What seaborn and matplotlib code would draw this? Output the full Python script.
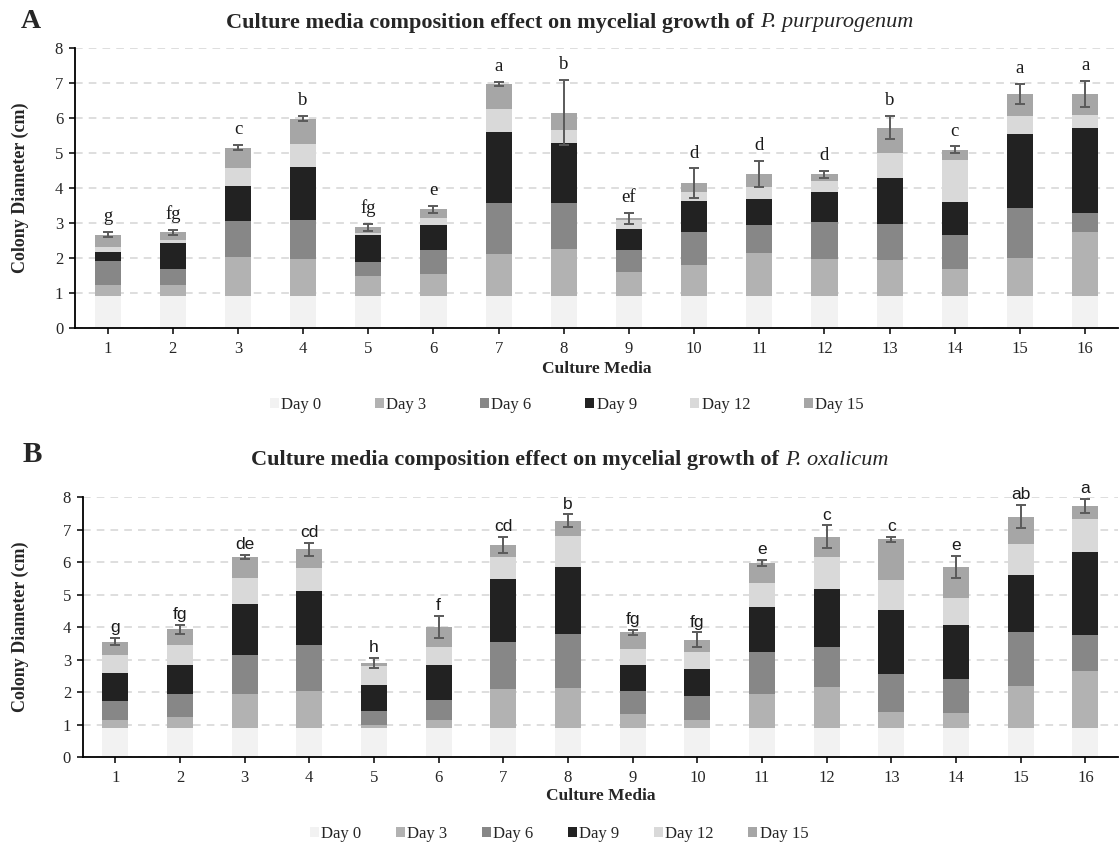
import numpy as np
import pandas as pd
import matplotlib
matplotlib.use("Agg")
import matplotlib.pyplot as plt
from matplotlib.patches import Patch
import seaborn as sns

media = [str(i) for i in range(1, 17)]
days = ["Day 0", "Day 3", "Day 6", "Day 9", "Day 12", "Day 15"]
day_colors = ["#f2f2f2", "#b2b2b2", "#878787", "#222222", "#d9d9d9", "#a6a6a6"]

# P. purpurogenum: colony diameter (cm) per medium and day
pp_day0 = [0.90] * 16
pp_day3 = [1.22, 1.22, 2.02, 1.98, 1.48, 1.54, 2.12, 2.25, 1.59, 1.79, 2.13, 1.98, 1.93, 1.67, 2.00, 2.75]
pp_day6 = [1.91, 1.69, 3.06, 3.08, 1.88, 2.23, 3.57, 3.57, 2.23, 2.74, 2.93, 3.02, 2.96, 2.65, 3.44, 3.29]
pp_day9 = [2.17, 2.43, 4.07, 4.59, 2.67, 2.93, 5.61, 5.29, 2.83, 3.63, 3.69, 3.88, 4.29, 3.60, 5.54, 5.71]
pp_day12 = [2.32, 2.51, 4.57, 5.25, 2.72, 3.14, 6.26, 5.66, 3.08, 3.89, 4.02, 4.20, 4.99, 4.80, 6.06, 6.10]
pp_day15 = [2.67, 2.73, 5.16, 5.99, 2.88, 3.39, 6.98, 6.16, 3.13, 4.14, 4.40, 4.40, 5.73, 5.09, 6.69, 6.69]
pp_err = [0.08, 0.06, 0.07, 0.06, 0.10, 0.10, 0.05, 0.92, 0.15, 0.42, 0.38, 0.10, 0.33, 0.10, 0.28, 0.38]
pp_letters = ["g", "fg", "c", "b", "fg", "e", "a", "b", "ef", "d", "d", "d", "b", "c", "a", "a"]

# P. oxalicum: colony diameter (cm) per medium and day
po_day0 = [0.90] * 16
po_day3 = [1.13, 1.23, 1.95, 2.03, 1.00, 1.13, 2.09, 2.13, 1.32, 1.13, 1.95, 2.17, 1.39, 1.37, 2.19, 2.64]
po_day6 = [1.72, 1.93, 3.16, 3.46, 1.41, 1.77, 3.56, 3.78, 2.03, 1.88, 3.23, 3.38, 2.56, 2.40, 3.85, 3.76]
po_day9 = [2.59, 2.85, 4.71, 5.10, 2.21, 2.85, 5.49, 5.85, 2.83, 2.72, 4.63, 5.19, 4.53, 4.07, 5.62, 6.32]
po_day12 = [3.14, 3.46, 5.51, 5.81, 2.81, 3.38, 6.17, 6.80, 3.32, 3.24, 5.36, 6.16, 5.45, 4.89, 6.56, 7.33]
po_day15 = [3.56, 3.93, 6.16, 6.40, 2.91, 4.01, 6.53, 7.27, 3.84, 3.62, 5.97, 6.78, 6.70, 5.85, 7.40, 7.73]
po_err = [0.12, 0.15, 0.06, 0.20, 0.15, 0.35, 0.25, 0.20, 0.07, 0.22, 0.10, 0.35, 0.09, 0.35, 0.36, 0.22]
po_letters = ["g", "fg", "de", "cd", "h", "f", "cd", "b", "fg", "fg", "e", "c", "c", "e", "ab", "a"]

SERIF = "Liberation Serif"
SANS = "Liberation Sans"

sns.set_theme(style="white")
plt.rcParams["font.family"] = [SERIF, "DejaVu Serif"]

FIG_W, FIG_H = 1120, 847


def panel_frame(values):
    df = pd.DataFrame({"Medium": media})
    for d, v in zip(days, values):
        df[d] = v
    return df


def draw_panel(ax, df, err, letters, letter_font, letter_size, letter_gap,
               ylabel_px, xlabel_pad):
    # Each day's diameter is drawn from zero, latest (largest) first,
    # so earlier days overlay the lower part of each column.
    for d, c in reversed(list(zip(days, day_colors))):
        sns.barplot(data=df, x="Medium", y=d, color=c, width=0.4,
                    saturation=1, errorbar=None, ax=ax, order=media,
                    edgecolor="none", linewidth=0)
    nb = len(media)
    tops = df["Day 15"].to_numpy()
    centers = np.array([p.get_x() + p.get_width() / 2 for p in ax.patches[:nb]])
    ax.errorbar(centers, tops, yerr=err, fmt="none", ecolor="#5a5a5a",
                elinewidth=1.4, capsize=3.5, capthick=1.4, zorder=5)
    for xc, t, e, lab in zip(centers, tops, err, letters):
        ax.annotate(lab, (xc, t + e), xytext=(0, letter_gap), textcoords="offset points",
                    ha="center", va="bottom", fontsize=letter_size,
                    family=letter_font, color="#1a1a1a")
    ax.set_xlim(-0.5, nb - 0.5)
    ax.set_ylim(0, 8)
    ax.set_yticks(range(0, 9))
    ax.yaxis.grid(True, linestyle=(0, (5, 4)), color="#d4d4d4", linewidth=1.1)
    ax.set_axisbelow(True)
    for s in ["top", "right"]:
        ax.spines[s].set_visible(False)
    for s in ["left", "bottom"]:
        ax.spines[s].set_color("black")
        ax.spines[s].set_linewidth(1.3)
    ax.tick_params(axis="both", which="major", direction="out", length=4.5,
                   width=1.1, color="black", labelsize=12, bottom=True, left=True)
    ax.tick_params(axis="x", pad=5)
    ax.tick_params(axis="y", pad=4)
    for lab in ax.get_xticklabels() + ax.get_yticklabels():
        lab.set_family(SERIF)
    ax.set_xlabel("Culture Media", fontsize=12.5, fontweight="bold", labelpad=xlabel_pad)
    ax.set_ylabel("Colony Diameter (cm)", fontsize=13, fontweight="bold")
    pos = ax.get_position()
    left_px = pos.x0 * FIG_W
    width_px = pos.width * FIG_W
    ax.yaxis.set_label_coords((ylabel_px - left_px) / width_px, 0.5)


def mixed_title(fig, y_px, bold_part, italic_part, size, xc_px):
    r = fig.canvas.get_renderer()
    y = 1 - y_px / FIG_H
    t1 = fig.text(0, y, bold_part, fontsize=size, fontweight="bold",
                  ha="left", va="center")
    t2 = fig.text(0, y, italic_part, fontsize=size, fontstyle="italic",
                  ha="left", va="center")
    w1 = t1.get_window_extent(r).width
    w2 = t2.get_window_extent(r).width
    x0 = xc_px - (w1 + w2) / 2
    t1.set_x(x0 / FIG_W)
    t2.set_x((x0 + w1) / FIG_W)


fig = plt.figure(figsize=(FIG_W / 100, FIG_H / 100), dpi=100)
axA = fig.add_axes([0.067, 0.613, 0.931, 0.330])
axB = fig.add_axes([0.074, 0.106, 0.924, 0.307])

dfA = panel_frame([pp_day0, pp_day3, pp_day6, pp_day9, pp_day12, pp_day15])
dfB = panel_frame([po_day0, po_day3, po_day6, po_day9, po_day12, po_day15])

draw_panel(axA, dfA, pp_err, pp_letters, SERIF, 13.5, 5, 29, 3)
draw_panel(axB, dfB, po_err, po_letters, SANS, 12.5, 2, 29, 1)

handles = [Patch(facecolor=c, edgecolor="none", label=d) for d, c in zip(days, day_colors)]
fig.legend(handles=handles, loc="center", bbox_to_anchor=(0.506, 0.522), ncol=6,
           frameon=False, fontsize=12, handlelength=0.55, handleheight=0.55,
           handletextpad=0.15, columnspacing=3.2)
fig.legend(handles=handles, loc="center", bbox_to_anchor=(0.499, 0.015), ncol=6,
           frameon=False, fontsize=12, handlelength=0.55, handleheight=0.55,
           handletextpad=0.15, columnspacing=2.05)

fig.canvas.draw()
mixed_title(fig, 23, "Culture media composition effect on mycelial growth of ",
            "P. purpurogenum", 16, 570)
mixed_title(fig, 460, "Culture media composition effect on mycelial growth of ",
            "P. oxalicum", 16, 570)
fig.text(31 / FIG_W, 1 - 22 / FIG_H, "A", fontsize=20, fontweight="bold", ha="center", va="center")
fig.text(32 / FIG_W, 1 - 454 / FIG_H, "B", fontsize=21, fontweight="bold", ha="center", va="center")

fig.savefig("out.png", dpi=100, facecolor="white")
